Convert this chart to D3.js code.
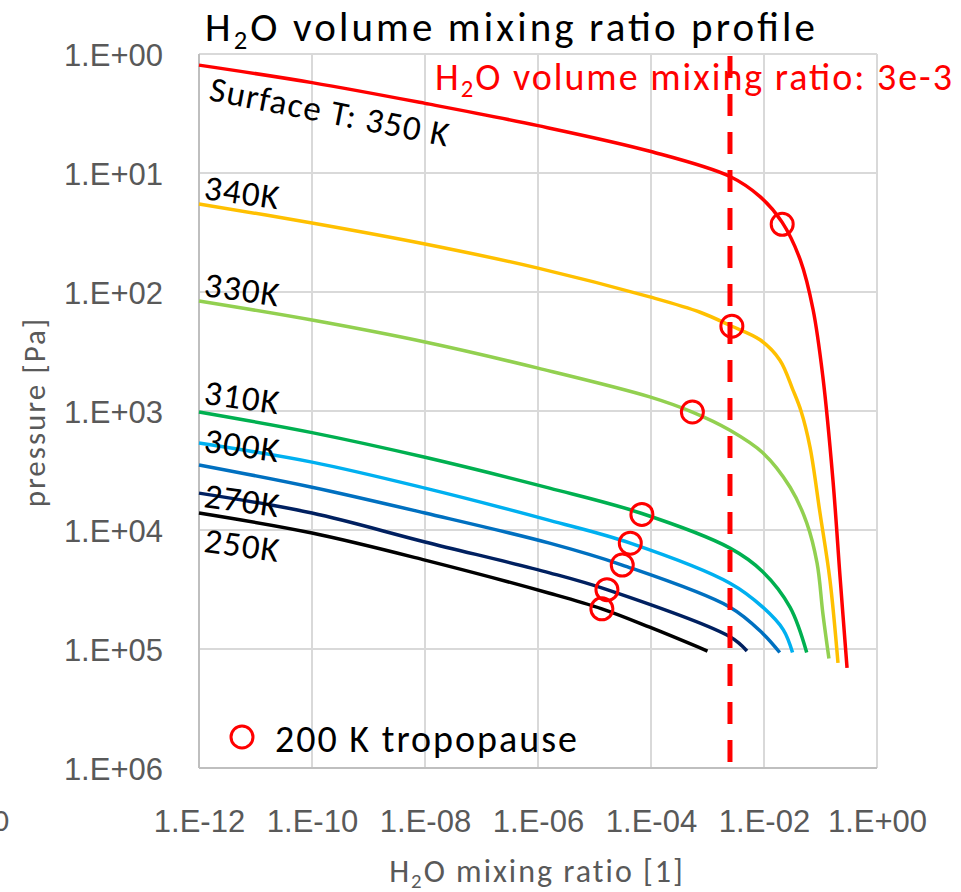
<!DOCTYPE html>
<html>
<head>
<meta charset="utf-8">
<script src="https://cdn.jsdelivr.net/npm/d3@7.9.0/dist/d3.min.js"></script>
<style>
  body { margin: 0; background: #fff; }
  svg { font-family: Carlito, Calibri, Lato, sans-serif; }
</style>
</head>
<body>
<script>
// ─── DATA (mixing ratio [1], pressure [Pa]) ─────────────────────────────────
const t350 = [[1e-12,1.24],[1e-10,1.74],[1e-8,2.6],[1e-6,4.0],[1e-4,6.6],[2.5e-3,10.7],
  [8.5e-3,15.8],[0.021,26],[0.044,54],[0.074,141],[0.11,513],[0.166,3800],[0.224,26300],[0.295,144000]];
const t340 = [[1e-12,18.2],[1e-10,26.3],[1e-8,39.5],[1e-6,63],[9.5e-5,110],[7.4e-4,148],[2.7e-3,194],
  [8.5e-3,252],[0.019,372],[0.0326,667],[0.0452,1000],[0.0652,2010],[0.098,7200],[0.147,26300],[0.204,131000]];
const t330 = [[1e-12,119],[1e-10,172],[1e-8,263],[1e-6,436],[9.5e-5,760],[5.4e-4,1020],[2.5e-3,1450],
  [9.5e-3,2240],[0.029,4370],[0.057,8700],[0.087,19000],[0.11,50000],[0.141,120000]];
const t310 = [[1e-12,1020],[1e-10,1520],[1e-8,2450],[1.6e-6,4450],[6.5e-5,7200],[2.5e-3,14200],
  [9.5e-3,22400],[0.029,44700],[0.057,107000]];
const t300 = [[1e-12,1860],[1e-10,2690],[1e-8,4450],[1.6e-6,8300],[4.3e-5,12900],[2.5e-3,28000],
  [9.5e-3,44500],[0.022,69000],[0.032,107000]];
const t290 = [[1e-12,2840],[1e-10,4370],[1e-8,7200],[1.6e-6,12900],[3.1e-5,19700],[2.5e-3,44500],
  [9.5e-3,74000],[0.019,107000]];
const t270 = [[1e-12,4900],[1e-10,7200],[1e-8,12600],[1.6e-6,22900],[1.66e-5,31700],[2.5e-3,79000],
  [5.0e-3,104000]];
const t250 = [[1e-12,7200],[1e-10,10600],[1e-8,17900],[1.6e-6,34000],[1.35e-5,46000],[9.5e-5,65600],
  [1.0e-3,104000]];

const seriesData   = [t350, t340, t330, t310, t300, t290, t270, t250];
const seriesColors = ['#ff0000','#ffc000','#92d050','#00b050','#00b0f0','#0070c0','#002060','#000000'];

// tropopause (200 K) markers
const tropoMR = [0.021, 2.7e-3, 5.4e-4, 6.9e-5, 4.3e-5, 3.1e-5, 1.66e-5, 1.35e-5];
const tropoP  = [27, 194, 1020, 7400, 12900, 19700, 31700, 46000];

// curve labels and the pressure they sit at on the left edge
const labelText = ['Surface T: 350 K','340K','330K','310K','300K','270K','250K'];
const labelP    = [2.44, 16.5, 108, 870, 2200, 6400, 15200];

const dashMR = 2.5e-3;   // "3e-3" reference line as drawn

const xTicks = [1e-12,1e-10,1e-8,1e-6,1e-4,1e-2,1];
const xTickLabels = ['1.E-12','1.E-10','1.E-08','1.E-06','1.E-04','1.E-02','1.E+00'];
const yTicks = [1,1e1,1e2,1e3,1e4,1e5,1e6];
const yTickLabels = ['1.E+00','1.E+01','1.E+02','1.E+03','1.E+04','1.E+05','1.E+06'];

// ─── SVG ────────────────────────────────────────────────────────────────────
const W = 961, H = 892;
const plot = { left:199, right:877, top:54, bottom:768 };

const svg = d3.select('body').append('svg')
  .attr('width', W).attr('height', H);

const x = d3.scaleLog().domain([1e-12, 1]).range([plot.left, plot.right]);
const y = d3.scaleLog().domain([1, 1e6]).range([plot.top, plot.bottom]);

// gridlines
svg.append('g')
  .selectAll('line').data(xTicks).enter().append('line')
    .attr('x1', d=>x(d)).attr('x2', d=>x(d))
    .attr('y1', plot.top).attr('y2', plot.bottom)
    .attr('stroke','#d9d9d9').attr('stroke-width',2);
svg.append('g')
  .selectAll('line').data(yTicks).enter().append('line')
    .attr('x1', plot.left).attr('x2', plot.right)
    .attr('y1', d=>y(d)).attr('y2', d=>y(d))
    .attr('stroke', d => d===1e6 ? '#bfbfbf' : '#d9d9d9').attr('stroke-width',2);
// left axis line
svg.append('line')
  .attr('x1', plot.left).attr('x2', plot.left)
  .attr('y1', plot.top).attr('y2', plot.bottom)
  .attr('stroke','#bfbfbf').attr('stroke-width',2);

// tick labels via d3 axes (no lines)
const xAxis = d3.axisBottom(x).tickValues(xTicks)
  .tickFormat((d,i)=>xTickLabels[i]).tickSize(0).tickPadding(0);
const gx = svg.append('g').attr('transform', `translate(0,${plot.bottom})`).call(xAxis);
gx.select('.domain').remove();
gx.selectAll('text')
  .attr('y', 64).attr('dy', null)
  .attr('fill','#595959').style('font-size','31px');

const yAxis = d3.axisLeft(y).tickValues(yTicks)
  .tickFormat((d,i)=>yTickLabels[i]).tickSize(0).tickPadding(0);
const gy = svg.append('g').attr('transform', `translate(${plot.left-36},0)`).call(yAxis);
gy.select('.domain').remove();
gy.selectAll('text')
  .attr('x', 0).attr('dy', '0.36em')
  .attr('fill','#595959').style('font-size','31px');

// stray clipped label at far left
svg.append('text')
  .attr('x', 9).attr('y', 831).attr('text-anchor','end')
  .attr('fill','#595959').style('font-size','31px').text('0');

// ─── CURVES ─────────────────────────────────────────────────────────────────
const line = d3.line()
  .x(d=>x(d[0])).y(d=>y(d[1]))
  .curve(d3.curveCatmullRom.alpha(0.5));

seriesData.forEach((s,i) => {
  svg.append('path')
    .datum(s)
    .attr('fill','none')
    .attr('stroke', seriesColors[i])
    .attr('stroke-width', 3.5)
    .attr('d', line);
});

// dashed reference line
svg.append('line')
  .attr('x1', x(dashMR)).attr('x2', x(dashMR))
  .attr('y1', plot.top + 2).attr('y2', plot.bottom)
  .attr('stroke','#ff0000').attr('stroke-width',5)
  .attr('stroke-dasharray','22 16');

// tropopause markers
svg.append('g')
  .selectAll('circle').data(tropoMR).enter().append('circle')
    .attr('cx', d=>x(d)).attr('cy', (d,i)=>y(tropoP[i]))
    .attr('r', 11)
    .attr('fill','none').attr('stroke','#ff0000').attr('stroke-width',3);

// curve labels
labelText.forEach((t,i) => {
  const lx = plot.left + (i===0 ? 9 : 4);
  const ly = y(labelP[i]);
  svg.append('text')
    .attr('transform', `translate(${lx},${ly}) rotate(${i===0 ? 11 : 8})`)
    .attr('fill','#000').style('font-size','35px')
    .style('letter-spacing', '1.2px')
    .text(t);
});

// ─── TEXT ───────────────────────────────────────────────────────────────────
function subText(g, parts) {
  parts.forEach(([txt, sub]) => {
    g.append('tspan')
      .attr('baseline-shift', sub ? '-28%' : null)
      .style('font-size', sub ? '0.65em' : null)
      .text(txt);
  });
}

const title = svg.append('text')
  .attr('x', 205).attr('y', 41)
  .attr('fill','#000').style('font-size','41px')
  .attr('textLength', 610).attr('lengthAdjust','spacing');
subText(title, [['H'],['2',true],['O volume mixing ratio profile']]);

const annot = svg.append('text')
  .attr('x', 435).attr('y', 90)
  .attr('fill','#ff0000').style('font-size','38px')
  .attr('textLength', 517).attr('lengthAdjust','spacing');
subText(annot, [['H'],['2',true],['O volume mixing ratio: 3e-3']]);

const xTitle = svg.append('text')
  .attr('x', 537).attr('y', 882).attr('text-anchor','middle')
  .attr('fill','#595959').style('font-size','32px')
  .style('letter-spacing','2px');
subText(xTitle, [['H'],['2',true],['O mixing ratio [1]']]);

svg.append('text')
  .attr('transform', `translate(45,412) rotate(-90)`)
  .attr('text-anchor','middle')
  .attr('fill','#595959').style('font-size','31px')
  .style('letter-spacing','2px')
  .text('pressure [Pa]');

// legend
svg.append('circle')
  .attr('cx', 242).attr('cy', 737).attr('r', 11)
  .attr('fill','none').attr('stroke','#ff0000').attr('stroke-width',3);
svg.append('text')
  .attr('x', 275).attr('y', 752)
  .attr('fill','#000').style('font-size','38px')
  .style('letter-spacing','2px')
  .text('200 K tropopause');
</script>
</body>
</html>
